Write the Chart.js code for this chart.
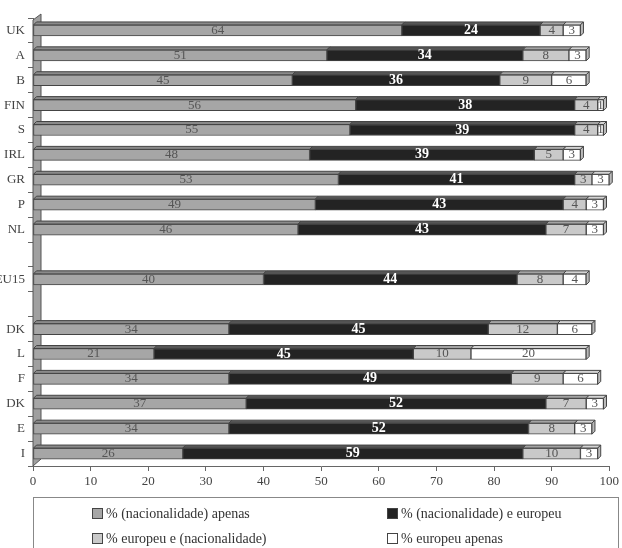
<!DOCTYPE html>
<html>
<head>
<meta charset="utf-8">
<script src="https://cdn.jsdelivr.net/npm/chart.js@4"></script>
<style>
  body { margin: 0; background: #fff; }
  #wrap { position: relative; width: 622px; height: 548px; overflow: hidden; }
  #chart { position: absolute; left: 0; top: 0; }
  #legend { position: absolute; left: 33px; top: 497px; width: 586px; height: 70px;
            border: 1px solid #888; box-sizing: border-box; font-family: 'Liberation Serif', serif;
            font-size: 14px; color: #333; }
  .item { position: absolute; white-space: nowrap; line-height: 16px; }
  .sw { display: inline-block; width: 9px; height: 9px; border: 1px solid #444; margin-right: 3px; vertical-align: -1px; }
</style>
</head>
<body>
<div id="wrap">
  <canvas id="chart" width="622" height="548"></canvas>
  <div id="legend">
    <div class="item" style="left:58px;top:8px"><span class="sw" style="background:#a6a6a6"></span>% (nacionalidade) apenas</div>
    <div class="item" style="left:353px;top:8px"><span class="sw" style="background:#232323"></span>% (nacionalidade) e europeu</div>
    <div class="item" style="left:58px;top:33px"><span class="sw" style="background:#c9c9c9"></span>% europeu e (nacionalidade)</div>
    <div class="item" style="left:353px;top:33px"><span class="sw" style="background:#fff"></span>% europeu apenas</div>
  </div>
</div>
<script>
// categories top to bottom, blanks are the gaps around EU15
var categories = ['UK', 'A', 'B', 'FIN', 'S', 'IRL', 'GR', 'P', 'NL', '', 'EU15', '', 'DK', 'L', 'F', 'DK', 'E', 'I'];
var nacApenas = [64, 51, 45, 56, 55, 48, 53, 49, 46, null, 40, null, 34, 21, 34, 37, 34, 26];
var nacEuropeu = [24, 34, 36, 38, 39, 39, 41, 43, 43, null, 44, null, 45, 45, 49, 52, 52, 59];
var europeuNac = [4, 8, 9, 4, 4, 5, 3, 4, 7, null, 8, null, 12, 10, 9, 7, 8, 10];
var europeuApenas = [3, 3, 6, 1, 1, 3, 3, 3, 3, null, 4, null, 6, 20, 6, 3, 3, 3];
var xTicks = [0, 10, 20, 30, 40, 50, 60, 70, 80, 90, 100];

var fronts = ['#a6a6a6', '#232323', '#c9c9c9', '#ffffff'];
var tops = ['#8a8a8a', '#555555', '#a3a3a3', '#d4d4d4'];
var depth = 3;

// left wall of the 3d box
var wallPlugin = {
  id: 'wall',
  beforeDatasetsDraw: function(chart) {
    var ctx = chart.ctx, a = chart.chartArea;
    var x0 = chart.scales.x.getPixelForValue(0);
    ctx.save();
    ctx.beginPath();
    ctx.moveTo(x0, a.bottom);
    ctx.lineTo(x0, a.top + 2);
    ctx.lineTo(x0 + 8, a.top - 4);
    ctx.lineTo(x0 + 8, a.bottom - 7);
    ctx.closePath();
    ctx.fillStyle = '#a0a0a0';
    ctx.fill();
    ctx.strokeStyle = '#555';
    ctx.lineWidth = 1;
    ctx.stroke();
    ctx.restore();
  }
};

// top faces, end caps and the numbers
var barPlugin = {
  id: 'bars3d',
  afterDatasetsDraw: function(chart) {
    var ctx = chart.ctx;
    ctx.save();
    ctx.strokeStyle = '#444';
    ctx.lineWidth = 1;
    var n = chart.data.labels.length;
    for (var i = 0; i < n; i++) {
      var last = -1;
      chart.data.datasets.forEach(function(ds, d) {
        var el = chart.getDatasetMeta(d).data[i];
        if (ds.data[i] == null) return;
        last = d;
        var t = el.y - el.height / 2;
        ctx.beginPath();
        ctx.moveTo(el.base, t);
        ctx.lineTo(el.base + depth, t - depth);
        ctx.lineTo(el.x + depth, t - depth);
        ctx.lineTo(el.x, t);
        ctx.closePath();
        ctx.fillStyle = tops[d];
        ctx.fill();
        ctx.stroke();
      });
      if (last >= 0) {
        var e = chart.getDatasetMeta(last).data[i];
        var tt = e.y - e.height / 2, bb = e.y + e.height / 2;
        ctx.beginPath();
        ctx.moveTo(e.x, tt);
        ctx.lineTo(e.x + depth, tt - depth);
        ctx.lineTo(e.x + depth, bb - depth);
        ctx.lineTo(e.x, bb);
        ctx.closePath();
        ctx.fillStyle = '#bbb';
        ctx.fill();
        ctx.stroke();
      }
    }
    ctx.textAlign = 'center';
    ctx.textBaseline = 'middle';
    chart.data.datasets.forEach(function(ds, d) {
      chart.getDatasetMeta(d).data.forEach(function(el, i) {
        var v = ds.data[i];
        if (v == null) return;
        if (d === 1) {
          ctx.font = 'bold 14px "Liberation Serif"';
          ctx.fillStyle = '#fff';
        } else {
          ctx.font = '13px "Liberation Serif"';
          ctx.fillStyle = '#555';
        }
        ctx.fillText(String(v), (el.x + el.base) / 2, el.y);
      });
    });
    ctx.restore();
  }
};

function makeSet(label, data, d) {
  return {
    label: label,
    data: data,
    backgroundColor: fronts[d],
    borderColor: '#444',
    borderWidth: 1,
    borderSkipped: false,
    barThickness: 11
  };
}

new Chart(document.getElementById('chart'), {
  type: 'bar',
  data: {
    labels: categories,
    datasets: [
      makeSet('% (nacionalidade) apenas', nacApenas, 0),
      makeSet('% (nacionalidade) e europeu', nacEuropeu, 1),
      makeSet('% europeu e (nacionalidade)', europeuNac, 2),
      makeSet('% europeu apenas', europeuApenas, 3)
    ]
  },
  options: {
    indexAxis: 'y',
    responsive: false,
    animation: false,
    layout: { padding: { top: 18, bottom: 57, left: 0, right: 11 } },
    plugins: { legend: { display: false }, tooltip: { enabled: false } },
    scales: {
      x: {
        stacked: true,
        min: 0,
        max: 100,
        afterBuildTicks: function(s) { s.ticks = xTicks.map(function(v) { return { value: v }; }); },
        afterFit: function(s) { s.height = 25; },
        grid: { drawOnChartArea: false, tickLength: 5, color: '#666' },
        border: { color: '#666' },
        ticks: { padding: 3, color: '#444', font: { family: 'Liberation Serif', size: 13 } }
      },
      y: {
        stacked: true,
        afterFit: function(s) { s.width = 33; },
        grid: { drawOnChartArea: false, tickLength: 5, color: '#666', offset: true },
        border: { color: '#666' },
        ticks: { padding: 3, color: '#444', autoSkip: false, font: { family: 'Liberation Serif', size: 13 } }
      }
    }
  },
  plugins: [wallPlugin, barPlugin]
});
</script>
</body>
</html>
